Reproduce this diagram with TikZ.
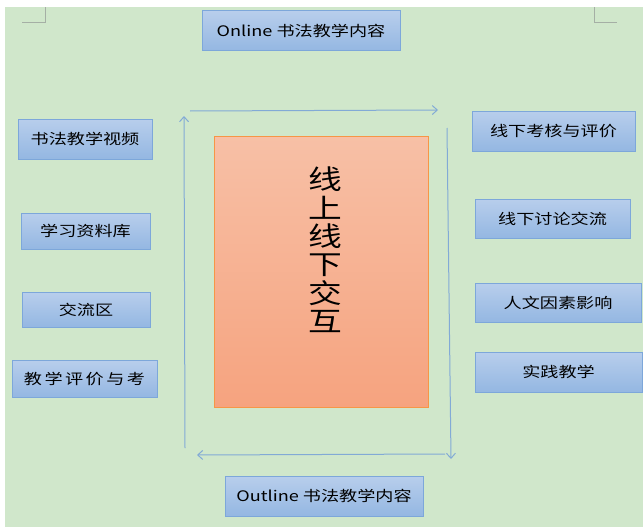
\documentclass[tikz,border=0pt]{standalone}
\usepackage{fontspec}
\setmainfont{Noto Sans CJK SC}[FakeStretch=1.25]
\newfontfamily\widecjk{Noto Sans CJK SC}[FakeStretch=1.25,LetterSpace=17]
\usetikzlibrary{arrows.meta}

\definecolor{pagegreen}{RGB}{208,231,203}
\definecolor{boxtop}{RGB}{184,206,236}
\definecolor{boxbottom}{RGB}{148,183,226}
\definecolor{boxline}{RGB}{125,167,218}
\definecolor{coretop}{RGB}{247,192,166}
\definecolor{corebottom}{RGB}{246,163,127}
\definecolor{coreline}{RGB}{247,150,70}
\definecolor{flowline}{RGB}{130,170,214}
\definecolor{markgray}{RGB}{165,175,165}

\tikzset{every picture/.style={line width=0.75pt}}

\begin{document}
\begin{tikzpicture}[
    x=1pt, y=-1pt,
    item/.style={draw=boxline, line width=1pt, top color=boxtop, bottom color=boxbottom,
        inner sep=0pt, font=\fontsize{14.5}{16}\selectfont},
    flow/.style={draw=flowline, line width=1pt, -{Straight Barb[length=5pt,width=9pt]}},
]

    \useasboundingbox (0,0) rectangle (643,527);
    \fill[white] (0,0) rectangle (643,527);
    \fill[pagegreen] (5,7) rectangle (643,527);
    \draw[markgray] (22,22) -- (45,22) -- (45,7);
    \draw[markgray] (617,22) -- (594,22) -- (594,7);

    \node[item, minimum width=198pt, minimum height=40pt] (online) at (301,31) {Online 书法教学内容};

    \node[item, minimum width=134pt, minimum height=40pt] (video) at (85,139) {书法教学视频};
    \node[item, minimum width=129pt, minimum height=36pt] (library) at (85.5,231) {学习资料库};
    \node[item, minimum width=128pt, minimum height=35pt] (forum) at (86,309.5) {交流区};
    \node[item, minimum width=145pt, minimum height=37pt] (evaluation) at (84.5,378.5) {\widecjk 教学评价与考};

    \node[item, minimum width=163pt, minimum height=40pt] (assess) at (553.5,131) {线下考核与评价};
    \node[item, minimum width=155pt, minimum height=39pt] (discuss) at (552.5,218.5) {线下讨论交流};
    \node[item, minimum width=166pt, minimum height=39pt] (culture) at (558,302.5) {人文因素影响};
    \node[item, minimum width=167pt, minimum height=40pt] (practice) at (558.5,372) {实践教学};

    \node[item, minimum width=198pt, minimum height=40pt] (outline) at (324,496) {Outline 书法教学内容};

    \node[draw=coreline, line width=1pt, top color=coretop, bottom color=corebottom,
        minimum width=214pt, minimum height=271pt, inner sep=0pt] (core) at (321,271.5) {};
    \node[font=\fontsize{27}{28.4}\selectfont, align=center, inner sep=0pt] (coretext) at (325,250)
        {线\\上\\线\\下\\交\\互};

    \coordinate (topstart) at (190,111);
    \coordinate (topend) at (438,110);
    \coordinate (rightstart) at (447,128);
    \coordinate (rightend) at (451,459);
    \coordinate (bottomstart) at (445,454);
    \coordinate (bottomend) at (197,455);
    \coordinate (leftstart) at (185,448);
    \coordinate (leftend) at (184,116);

    \draw[flow] (topstart) -- (topend);
    \draw[flow] (rightstart) -- (rightend);
    \draw[flow] (bottomstart) -- (bottomend);
    \draw[flow] (leftstart) -- (leftend);
\end{tikzpicture}
\end{document}
